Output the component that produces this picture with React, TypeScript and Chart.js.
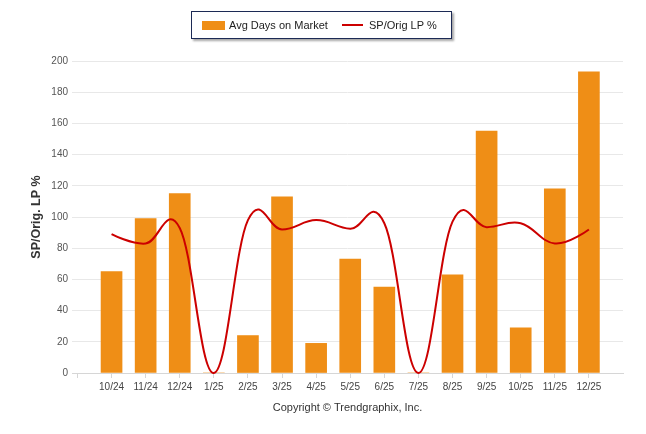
import React, { useEffect, useRef } from "react";
import { Chart, registerables } from "chart.js";

Chart.register(...registerables);

const categories = ["10/24", "11/24", "12/24", "1/25", "2/25", "3/25", "4/25", "5/25", "6/25", "7/25", "8/25", "9/25", "10/25", "11/25", "12/25"];
const avgDaysOnMarket = [65, 99, 115, 0, 24, 113, 19, 73, 55, 0, 63, 155, 29, 118, 193];
const spOrigLpPct = [89, 83, 93, 0, 98, 92, 98, 92.5, 96, 0, 97, 93.5, 96, 83, 92];
const yTickValues = [0, 20, 40, 60, 80, 100, 120, 140, 160, 180, 200];
const seriesNames = ["Avg Days on Market", "SP/Orig LP %"];
const yAxisTitle = "SP/Orig. LP %";
const xAxisTitle = "Copyright \u00A9 Trendgraphix, Inc.";

const BAR_COLOR = "#EF8E16";
const LINE_COLOR = "#CC0000";
const FONT = "'Liberation Sans', Arial, sans-serif";

// Highcharts-style spline control points computed from the scale-positioned points
const splinePlugin = {
  id: "hcSpline",
  beforeDatasetsDraw(chart: any) {
    chart.data.datasets.forEach((ds: any, di: number) => {
      if (ds.type !== "line") return;
      const meta = chart.getDatasetMeta(di);
      const pts = meta.data as any[];
      const s = 1.5;
      const den = 2.5;
      pts.forEach((p, i) => {
        const prev = pts[i - 1];
        const next = pts[i + 1];
        if (prev && next) {
          const lx = (s * p.x + prev.x) / den;
          let ly = (s * p.y + prev.y) / den;
          const rx = (s * p.x + next.x) / den;
          let ry = (s * p.y + next.y) / den;
          let corr = 0;
          if (rx !== lx) corr = ((ry - ly) * (rx - p.x)) / (rx - lx) + p.y - ry;
          ly += corr;
          ry += corr;
          p.cp1x = lx; p.cp1y = ly; p.cp2x = rx; p.cp2y = ry;
        } else {
          p.cp1x = p.x; p.cp1y = p.y; p.cp2x = p.x; p.cp2y = p.y;
        }
      });
      (meta.dataset as any)._pointsUpdated = true;
      (meta.dataset as any)._path = undefined;
    });
  },
};

export default function App() {
  const canvasRef = useRef<HTMLCanvasElement | null>(null);

  useEffect(() => {
    document.body.style.margin = "0";
    const canvas = canvasRef.current;
    if (!canvas) return;
    const chart = new Chart(canvas, {
      type: "bar",
      data: {
        datasets: [
          {
            type: "line",
            label: seriesNames[1],
            data: spOrigLpPct.map((v, i) => ({ x: i, y: v })),
            borderColor: LINE_COLOR,
            backgroundColor: LINE_COLOR,
            borderWidth: 2,
            pointRadius: 0,
            tension: 0.4,
            fill: false,
            order: 0,
            clip: 4,
          } as any,
          {
            type: "bar",
            label: seriesNames[0],
            data: avgDaysOnMarket.map((v, i) => ({ x: i, y: v })),
            backgroundColor: BAR_COLOR,
            borderWidth: 0,
            barThickness: 21,
            order: 1,
          } as any,
        ],
      },
      options: {
        responsive: false,
        animation: false,
        events: [],
        layout: { padding: { top: 61, right: 23, left: 0, bottom: 0 } },
        plugins: {
          legend: { display: false },
          tooltip: { enabled: false },
        },
        scales: {
          x: {
            type: "linear",
            offset: false,
            min: -1.16,
            max: 15,
            afterBuildTicks: (scale: any) => {
              scale.ticks = [-1, ...categories.map((_, i) => i)].map((v) => ({ value: v }));
            },
            afterFit: (scale: any) => {
              scale.height = 61;
            },
            ticks: {
              autoSkip: false,
              maxRotation: 0,
              minRotation: 0,
              padding: 3,
              color: "#444",
              font: { family: FONT, size: 10 },
              callback: (v: any) => (categories[v as number] ?? ""),
            },
            grid: {
              offset: false,
              drawOnChartArea: false,
              drawTicks: true,
              tickLength: 5,
              color: "#d6d6d6",
            },
            border: { display: true, color: "#d6d6d6", width: 1 },
            title: {
              display: true,
              text: xAxisTitle,
              color: "#333",
              font: { family: FONT, size: 11 },
              padding: { top: 0, bottom: 19 },
            },
          },
          y: {
            min: 0,
            max: 200,
            afterBuildTicks: (scale: any) => {
              scale.ticks = yTickValues.map((v) => ({ value: v }));
            },
            afterFit: (scale: any) => {
              scale.width = 72;
            },
            ticks: {
              padding: 4,
              color: "#555",
              font: { family: FONT, size: 10 },
            },
            grid: {
              color: "#e8e8e8",
              drawTicks: false,
            },
            border: { display: false },
            title: {
              display: true,
              text: yAxisTitle,
              color: "#333",
              font: { family: FONT, size: 12.5, weight: "bold" },
              padding: { top: 29, bottom: 0 },
            },
          },
        },
      } as any,
      plugins: [splinePlugin],
    });
    return () => chart.destroy();
  }, []);

  return (
    <div style={{ position: "relative", width: 646, height: 434, background: "#fff", fontFamily: FONT }}>
      <canvas ref={canvasRef} width={646} height={434} style={{ display: "block" }} />
      <div
        style={{
          position: "absolute",
          left: 191,
          top: 11,
          width: 261,
          height: 28,
          boxSizing: "border-box",
          border: "1px solid #1c2a55",
          boxShadow: "2px 2px 2px rgba(0,0,0,0.35)",
          background: "#fff",
          fontSize: 11,
          color: "#222",
        }}
      >
        <div style={{ position: "absolute", left: 10, top: 9, width: 23, height: 9, background: BAR_COLOR }} />
        <div style={{ position: "absolute", left: 37, top: 7, lineHeight: "13px", whiteSpace: "nowrap" }}>{seriesNames[0]}</div>
        <div style={{ position: "absolute", left: 150, top: 12, width: 21, height: 2, background: LINE_COLOR }} />
        <div style={{ position: "absolute", left: 177, top: 7, lineHeight: "13px", whiteSpace: "nowrap" }}>{seriesNames[1]}</div>
      </div>
    </div>
  );
}
